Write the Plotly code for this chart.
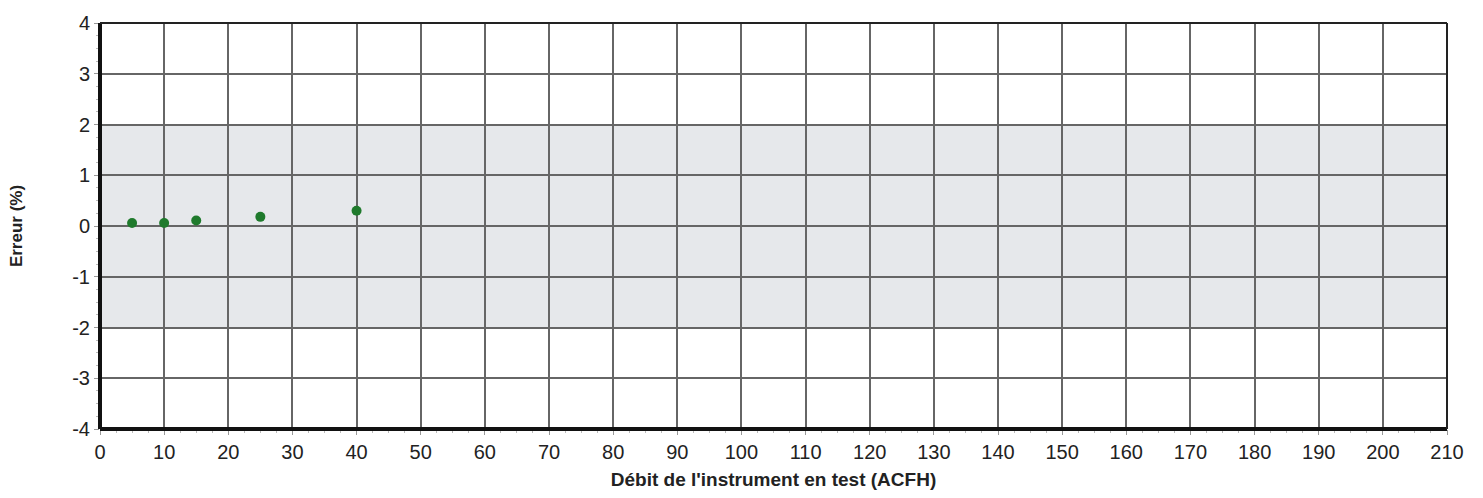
import plotly.graph_objects as go

# Measured flow points and their error
debit = [5, 10, 15, 25, 40]
erreur = [0.06, 0.06, 0.11, 0.18, 0.30]

# Tolerance band limits (%)
tol_min, tol_max = -2, 2

x_ticks = list(range(0, 211, 10))
y_ticks = list(range(-4, 5, 1))

fig = go.Figure()

fig.add_trace(go.Scatter(
    x=debit, y=erreur, mode="markers",
    marker=dict(color="#1f7a2c", size=10, line=dict(width=0)),
    showlegend=False,
))

# Shaded tolerance band
fig.add_shape(type="rect", xref="x domain", yref="y", x0=0, x1=1,
              y0=tol_min, y1=tol_max, fillcolor="#e6e8eb",
              line=dict(width=0), layer="below")

# Frame: heavy left/bottom, lighter top/right
fig.add_shape(type="line", xref="x domain", yref="y domain", x0=0, x1=0, y0=0, y1=1,
              line=dict(color="#111", width=4))
fig.add_shape(type="line", xref="x domain", yref="y domain", x0=0, x1=1, y0=0, y1=0,
              line=dict(color="#111", width=4))
fig.add_shape(type="line", xref="x domain", yref="y domain", x0=0, x1=1, y0=1, y1=1,
              line=dict(color="#222", width=2))
fig.add_shape(type="line", xref="x domain", yref="y domain", x0=1, x1=1, y0=0, y1=1,
              line=dict(color="#222", width=2))

fig.update_layout(
    width=1483, height=498,
    margin=dict(l=100, r=36, t=16, b=67),
    paper_bgcolor="white", plot_bgcolor="white",
    font=dict(family="Liberation Sans, Arial, sans-serif", size=20, color="#222"),
    xaxis=dict(
        range=[0, 210], tickvals=x_ticks, ticktext=[str(v) for v in x_ticks],
        showgrid=True, gridcolor="#666", gridwidth=1.5,
        ticks="outside", ticklen=5, tickcolor="#999", tickwidth=1,
        minor=dict(dtick=2.5, ticks="outside", ticklen=3, tickcolor="#bbb", showgrid=False),
        zeroline=False, showline=False,
        title=dict(text="<b>Débit de l'instrument en test (ACFH)</b>",
                   font=dict(size=19, color="#222"), standoff=10),
    ),
    yaxis=dict(
        range=[-4, 4], tickvals=y_ticks, ticktext=[str(v) for v in y_ticks],
        showgrid=True, gridcolor="#666", gridwidth=1.5,
        ticks="outside", ticklen=5, tickcolor="#999", tickwidth=1,
        minor=dict(dtick=0.25, ticks="outside", ticklen=3, tickcolor="#bbb", showgrid=False),
        zeroline=False, showline=False,
        title=dict(text="<b>Erreur (%)</b>", font=dict(size=17, color="#222"), standoff=45),
    ),
)

fig.write_html("out.html")
